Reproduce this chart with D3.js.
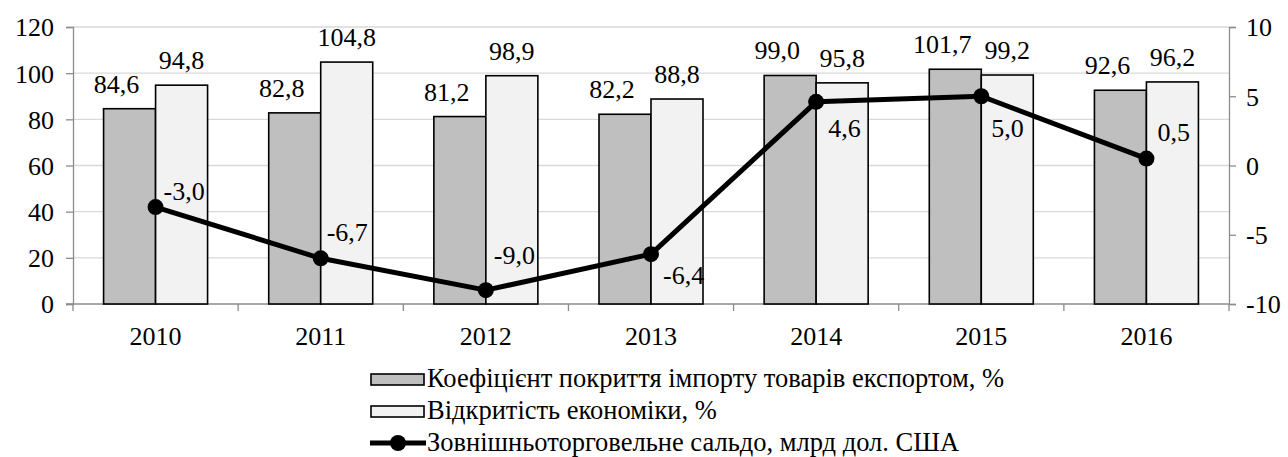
<!DOCTYPE html>
<html>
<head>
<meta charset="utf-8">
<script src="https://cdn.jsdelivr.net/npm/d3@7"></script>
<style>
  body { margin: 0; background: #fff; }
</style>
</head>
<body>
<script>
// chart data
var years = ["2010", "2011", "2012", "2013", "2014", "2015", "2016"];
var coverage = [84.6, 82.8, 81.2, 82.2, 99.0, 101.7, 92.6];
var openness = [94.8, 104.8, 98.9, 88.8, 95.8, 99.2, 96.2];
var balance = [-3.0, -6.7, -9.0, -6.4, 4.6, 5.0, 0.5];
var leftTicks = [0, 20, 40, 60, 80, 100, 120];
var rightTicks = [-10, -5, 0, 5, 10];
var seriesNames = [
    "Коефіцієнт покриття імпорту товарів експортом, %",
    "Відкритість економіки, %",
    "Зовнішньоторговельне сальдо, млрд дол. США"
];

var w = 1288;
var h = 457;
// plot box (note: "top" is reserved on window, so use pl/pr/pt/pb)
var pl = 73, pr = 1229, pt = 27, pb = 304;
var FONT = "'Liberation Serif', 'Times New Roman', Tinos, 'DejaVu Serif', serif";
var FS = "26px";

function fmt(v){
    return v.toFixed(1).replace(".", ",");
}

var svg = d3.select("body")
    .append("svg")
    .attr("width", w)
    .attr("height", h)
    .attr("font-family", FONT);

var xScale = d3.scaleBand()
    .domain(years)
    .range([pl, pr]);

var yLeft = d3.scaleLinear().domain([0, 120]).range([pb, pt]);
var yRight = d3.scaleLinear().domain([-10, 10]).range([pb, pt]);

var barW = 52;

// gridlines
svg.selectAll("line.grid")
    .data(leftTicks.slice(1))
    .enter()
    .append("line")
    .attr("class", "grid")
    .attr("x1", pl)
    .attr("x2", pr)
    .attr("y1", function(d){ return yLeft(d); })
    .attr("y2", function(d){ return yLeft(d); })
    .attr("stroke", "#d9d9d9")
    .attr("stroke-width", 1.3);

// left axis
var axL = svg.append("g")
    .attr("transform", "translate(" + pl + ",0)")
    .call(d3.axisLeft(yLeft).tickValues(leftTicks).tickSize(7).tickPadding(12)
        .tickFormat(function(d){ return String(d); }));
axL.attr("font-family", FONT).attr("font-size", FS);
axL.select(".domain").attr("stroke", "#8c8c8c").attr("stroke-width", 1.3);
axL.selectAll(".tick line").attr("stroke", "#8c8c8c").attr("stroke-width", 1.3);
axL.selectAll("text").attr("fill", "#000").attr("dy", "0.34em");

// right axis (plain hyphen for negatives, like the source)
var axR = svg.append("g")
    .attr("transform", "translate(" + pr + ",0)")
    .call(d3.axisRight(yRight).tickValues(rightTicks).tickSize(7).tickPadding(10)
        .tickFormat(function(d){ return String(d); }));
axR.attr("font-family", FONT).attr("font-size", FS);
axR.select(".domain").attr("stroke", "#8c8c8c").attr("stroke-width", 1.3);
axR.selectAll(".tick line").attr("stroke", "#8c8c8c").attr("stroke-width", 1.3);
axR.selectAll("text").attr("fill", "#000").attr("dy", "0.34em");

// x axis baseline and category ticks
svg.append("line")
    .attr("x1", pl - 7).attr("x2", pr)
    .attr("y1", pb).attr("y2", pb)
    .attr("stroke", "#8c8c8c").attr("stroke-width", 1.3);

var borders = d3.range(years.length + 1).map(function(i){ return pl + i * xScale.bandwidth(); });
svg.selectAll("line.xtick")
    .data(borders)
    .enter()
    .append("line")
    .attr("x1", function(d){ return d; })
    .attr("x2", function(d){ return d; })
    .attr("y1", pb)
    .attr("y2", pb + 7)
    .attr("stroke", "#8c8c8c").attr("stroke-width", 1.3);

svg.selectAll("text.year")
    .data(years)
    .enter()
    .append("text")
    .attr("class", "year")
    .attr("x", function(d){ return xScale(d) + xScale.bandwidth() / 2; })
    .attr("y", 345)
    .attr("text-anchor", "middle")
    .attr("font-size", FS)
    .text(function(d){ return d; });

function center(i){
    return xScale(years[i]) + xScale.bandwidth() / 2;
}

// coverage bars
svg.selectAll("rect.cov")
    .data(coverage)
    .enter()
    .append("rect")
    .attr("class", "cov")
    .attr("x", function(d, i){ return center(i) - barW; })
    .attr("y", function(d){ return yLeft(d); })
    .attr("width", barW)
    .attr("height", function(d){ return pb - yLeft(d); })
    .attr("fill", "#bfbfbf")
    .attr("stroke", "#000")
    .attr("stroke-width", 1.6);

// openness bars
svg.selectAll("rect.open")
    .data(openness)
    .enter()
    .append("rect")
    .attr("class", "open")
    .attr("x", function(d, i){ return center(i); })
    .attr("y", function(d){ return yLeft(d); })
    .attr("width", barW)
    .attr("height", function(d){ return pb - yLeft(d); })
    .attr("fill", "#f2f2f2")
    .attr("stroke", "#000")
    .attr("stroke-width", 1.6);

// bar labels
svg.selectAll("text.covlab")
    .data(coverage)
    .enter()
    .append("text")
    .attr("x", function(d, i){ return center(i) - barW / 2 - 13; })
    .attr("y", function(d){ return yLeft(d) - 16; })
    .attr("text-anchor", "middle")
    .attr("font-size", FS)
    .text(fmt);

svg.selectAll("text.openlab")
    .data(openness)
    .enter()
    .append("text")
    .attr("x", function(d, i){ return center(i) + barW / 2; })
    .attr("y", function(d){ return yLeft(d) - 16; })
    .attr("text-anchor", "middle")
    .attr("font-size", FS)
    .text(fmt);

// balance line
var line = d3.line()
    .x(function(d, i){ return center(i); })
    .y(function(d){ return yRight(d); });

svg.append("path")
    .datum(balance)
    .attr("d", line)
    .attr("fill", "none")
    .attr("stroke", "#000")
    .attr("stroke-width", 5)
    .attr("stroke-linejoin", "round");

svg.selectAll("circle.bal")
    .data(balance)
    .enter()
    .append("circle")
    .attr("cx", function(d, i){ return center(i); })
    .attr("cy", function(d){ return yRight(d); })
    .attr("r", 8)
    .attr("fill", "#000");

// label offsets relative to the marker (above or below)
var labelDx = [8, 6, 8, 12, 12, 10, 11];
var labelDy = [-7, -17, -26, 30, 35, 41, -18];
svg.selectAll("text.ballab")
    .data(balance)
    .enter()
    .append("text")
    .attr("x", function(d, i){ return center(i) + labelDx[i]; })
    .attr("y", function(d, i){ return yRight(d) + labelDy[i]; })
    .attr("font-size", FS)
    .text(fmt);

// legend
var lg = svg.append("g");
var lx = 371;
lg.append("rect").attr("x", lx).attr("y", 374).attr("width", 53).attr("height", 11)
    .attr("fill", "#bfbfbf").attr("stroke", "#000").attr("stroke-width", 1.6);
lg.append("rect").attr("x", lx).attr("y", 406).attr("width", 53).attr("height", 11)
    .attr("fill", "#f2f2f2").attr("stroke", "#000").attr("stroke-width", 1.6);
lg.append("line").attr("x1", lx - 1).attr("x2", lx + 55).attr("y1", 443).attr("y2", 443)
    .attr("stroke", "#000").attr("stroke-width", 5);
lg.append("circle").attr("cx", lx + 27).attr("cy", 443).attr("r", 8).attr("fill", "#000");

lg.selectAll("text")
    .data(seriesNames)
    .enter()
    .append("text")
    .attr("x", lx + 56)
    .attr("y", function(d, i){ return 387 + i * 32; })
    .attr("font-size", "26.5px")
    .text(function(d){ return d; });
</script>
</body>
</html>
